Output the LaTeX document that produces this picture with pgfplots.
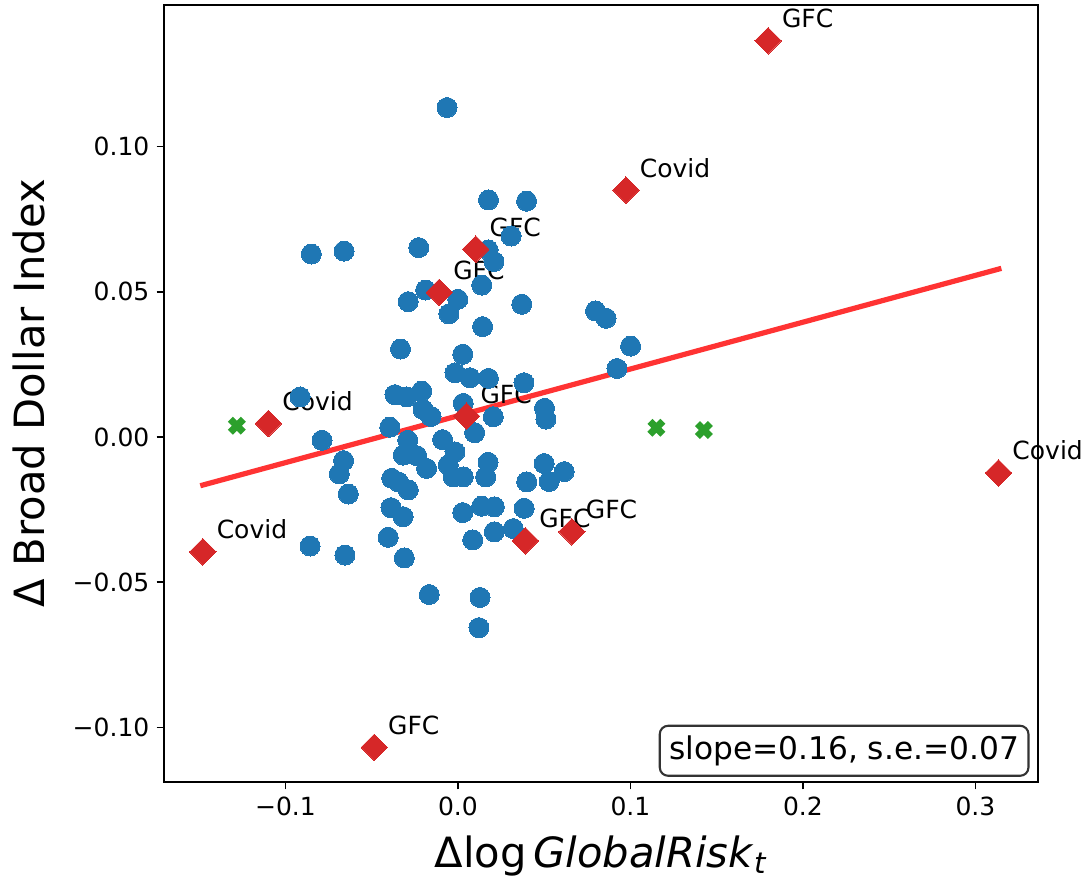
\documentclass[border=0pt]{standalone}
\usepackage{fontspec}
\setmainfont{DejaVu Sans}
\usepackage{pgfplots}
\usepackage{pgfplotstable}
\pgfplotsset{compat=1.18}
\definecolor{mplblue}{HTML}{1F77B4}
\definecolor{mplred}{HTML}{D62728}
\definecolor{mplgreen}{HTML}{2CA02C}

\pgfplotstableread{
x y
-0.0063 0.1134
0.0177 0.0816
0.0398 0.0812
0.0308 0.0692
-0.0850 0.0630
-0.0660 0.0640
-0.0227 0.0652
0.0175 0.0644
0.0209 0.0604
0.0138 0.0523
-0.0187 0.0506
-0.0001 0.0474
-0.0288 0.0466
-0.0052 0.0424
0.0370 0.0457
0.0143 0.0380
0.0798 0.0434
0.0859 0.0409
-0.0333 0.0303
0.1001 0.0313
0.0028 0.0285
0.0922 0.0236
-0.0017 0.0221
0.0070 0.0204
0.0177 0.0202
0.0383 0.0187
-0.0915 0.0138
-0.0365 0.0146
-0.0297 0.0138
-0.0210 0.0158
-0.0202 0.0095
-0.0156 0.0071
0.0031 0.0116
0.0205 0.0070
0.0502 0.0099
0.0510 0.0062
-0.0788 -0.0011
-0.0395 0.0034
-0.0291 -0.0011
-0.0089 -0.0009
0.0097 0.0015
-0.0663 -0.0081
-0.0688 -0.0127
-0.0317 -0.0062
-0.0239 -0.0064
-0.0182 -0.0108
-0.0017 -0.0051
-0.0056 -0.0096
-0.0027 -0.0137
0.0031 -0.0137
0.0175 -0.0087
0.0161 -0.0137
0.0399 -0.0154
0.0500 -0.0091
0.0529 -0.0153
0.0616 -0.0119
-0.0636 -0.0196
-0.0384 -0.0142
-0.0347 -0.0154
-0.0288 -0.0182
-0.0388 -0.0243
-0.0318 -0.0274
0.0028 -0.0260
0.0138 -0.0238
0.0211 -0.0240
0.0384 -0.0245
-0.0404 -0.0345
0.0086 -0.0354
0.0211 -0.0326
0.0321 -0.0315
-0.0857 -0.0375
-0.0655 -0.0406
-0.0311 -0.0416
-0.0166 -0.0542
0.0128 -0.0552
0.0122 -0.0656
}\bluedata

\pgfplotstableread{
x y
0.1798 0.1364
0.0974 0.0850
0.0103 0.0647
-0.0108 0.0498
0.0050 0.0072
-0.1099 0.0047
-0.1479 -0.0395
-0.0485 -0.1068
0.0391 -0.0357
0.0661 -0.0326
0.3134 -0.0123
}\reddata

\pgfplotstableread{
x y
-0.1282 0.0039
0.1151 0.0032
0.1426 0.0024
}\greendata

\begin{document}
\begin{tikzpicture}
\begin{axis}[
  name=ax,
  scale only axis,
  width=419.5pt, height=373pt,
  xmin=-0.1704, xmax=0.3363,
  ymin=-0.11876, ymax=0.14871,
  clip=false,
  axis line style={line width=0.8pt},
  tick style={line width=0.8pt, black},
  tick align=outside,
  major tick length=3.5pt,
  xtick pos=bottom, ytick pos=left,
  xtick={-0.1,0,0.1,0.2,0.3},
  xticklabels={−0.1,0.0,0.1,0.2,0.3},
  ytick={-0.1,-0.05,0,0.05,0.1},
  yticklabels={−0.10,−0.05,0.00,0.05,0.10},
  ticklabel style={font=\fontsize{12}{14}\selectfont},
  xlabel={Δlog\,\textit{GlobalRisk}\textsubscript{\textit{t}}},
  ylabel={Δ Broad Dollar Index},
  xlabel style={at={(axis description cs:0.5,-0.1095)}, anchor=base, font=\fontsize{20}{24}\selectfont},
  ylabel style={at={(axis description cs:-0.1362,0.5)}, anchor=base, font=\fontsize{20}{24}\selectfont},
]
\addplot[only marks, mark=*, mark size=4.8pt, color=mplblue, mark options={draw=mplblue, fill=mplblue, line width=0pt}] table[x=x,y=y] {\bluedata};
\addplot[only marks, mark=square*, mark size=4.5pt, color=mplred, mark options={rotate=45, draw=mplred, fill=mplred, line width=0pt}] table[x=x,y=y] {\reddata};
\addplot[only marks, mark=x, mark size=4.4pt, color=mplgreen, mark options={line width=3.4pt, draw=mplgreen}] table[x=x,y=y] {\greendata};
\addplot[red, opacity=0.8, line width=2.5pt, line cap=rect] coordinates {(-0.1479,-0.01652) (0.3136,0.05783)};

\begin{scope}[every node/.style={anchor=base west, font=\fontsize{12}{14}\selectfont, inner sep=0pt, xshift=6.5pt, yshift=6.2pt}]
\node at (axis cs:0.1798,0.1364) {GFC};
\node at (axis cs:0.0974,0.0850) {Covid};
\node at (axis cs:0.0103,0.0647) {GFC};
\node at (axis cs:-0.0108,0.0498) {GFC};
\node at (axis cs:0.0050,0.0072) {GFC};
\node at (axis cs:-0.1099,0.0047) {Covid};
\node at (axis cs:-0.1479,-0.0395) {Covid};
\node at (axis cs:-0.0485,-0.1068) {GFC};
\node at (axis cs:0.0391,-0.0357) {GFC};
\node at (axis cs:0.0661,-0.0326) {GFC};
\node at (axis cs:0.3134,-0.0123) {Covid};
\end{scope}

\node[anchor=south east, draw=black!80, line width=1pt, rounded corners=4pt, fill=white,
      inner xsep=4.5pt, inner ysep=4.5pt, text height=11.5pt, text depth=3.5pt,
      font=\fontsize{15}{18}\selectfont]
  at ([xshift=-4.08pt, yshift=2.54pt]rel axis cs:1,0) {slope=0.16, s.e.=0.07};
\end{axis}
\pgfresetboundingbox
\path[use as bounding box] ([shift={(-78.72pt,-47.04pt)}]ax.south west) rectangle ([shift={(24.48pt,2.4pt)}]ax.north east);
\end{tikzpicture}
\end{document}
